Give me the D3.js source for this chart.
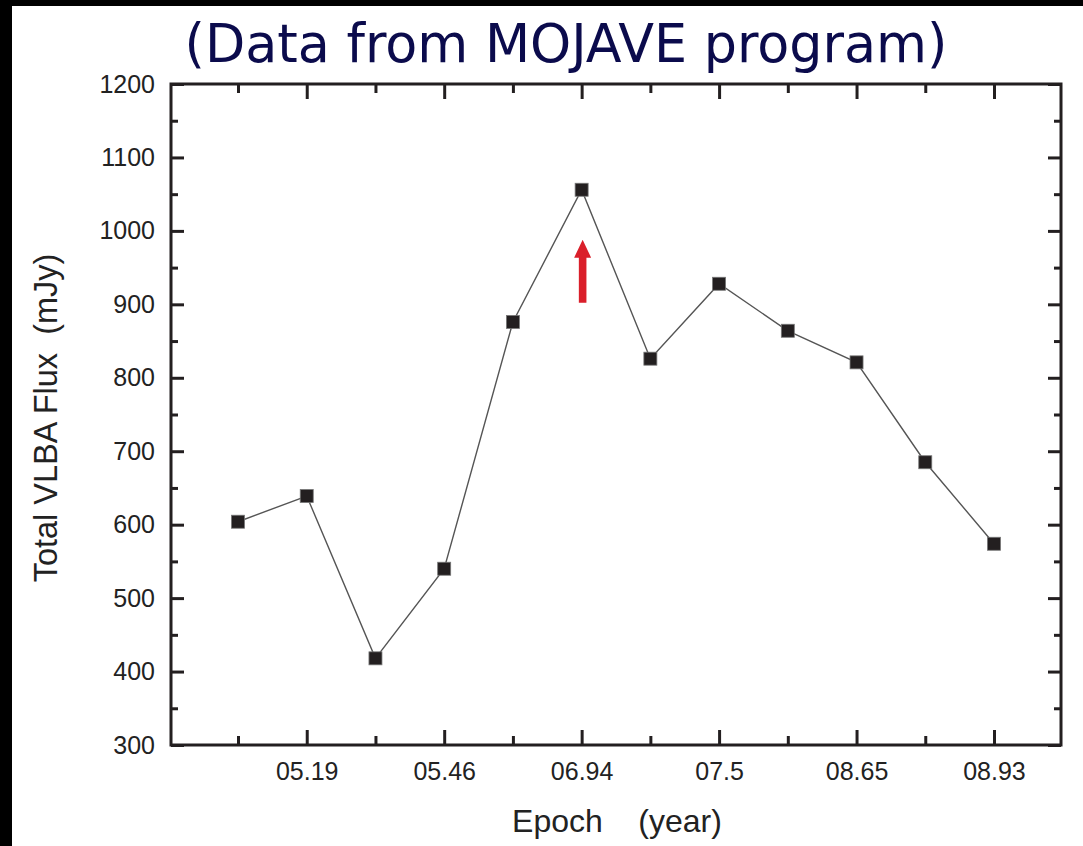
<!DOCTYPE html>
<html>
<head>
<meta charset="utf-8">
<script src="https://cdn.jsdelivr.net/npm/d3@7"></script>
<style>
  html, body { margin: 0; padding: 0; background: #fff; }
  svg { display: block; }
  text { font-family: "Liberation Sans", Arial, Helvetica, sans-serif; }
</style>
</head>
<body>
<svg id="chart" width="1083" height="846"></svg>
<script>
// Total VLBA flux per observing epoch (index along the x axis)
const epochIndex = [0, 1, 2, 3, 4, 5, 6, 7, 8, 9, 10, 11];
const fluxMJy    = [604, 639, 418, 540, 876, 1056, 826, 928, 864, 821, 685, 574];

// Only every second epoch carries a label
const labelledEpochs = [1, 3, 5, 7, 9, 11];
const epochLabels    = ["05.19", "05.46", "06.94", "07.5", "08.65", "08.93"];
const unlabelledEpochs = [0, 2, 4, 6, 8, 10];

const yMajorTicks = [300, 400, 500, 600, 700, 800, 900, 1000, 1100, 1200];
const yMinorTicks = [350, 450, 550, 650, 750, 850, 950, 1050, 1150];

// Flare marker: arrow at the peak epoch, from/to flux level
const arrowEpoch = 5;
const arrowFrom = 902;
const arrowTo = 988;

const svg = d3.select("#chart");
const W = 1083, H = 846;
const plot = { left: 171, right: 1061, top: 84, bottom: 745 };
const ink = "#231f20";

// dark frame strips on the left and top edge
svg.append("rect").attr("x", 0).attr("y", 0).attr("width", W).attr("height", H).attr("fill", "#fff");
svg.append("rect").attr("x", 0).attr("y", 0).attr("width", 12).attr("height", H).attr("fill", "#000");
svg.append("rect").attr("x", 0).attr("y", 0).attr("width", W).attr("height", 6).attr("fill", "#000");

const x = d3.scaleLinear().domain([-0.975, 11.975]).range([plot.left, plot.right]);
const y = d3.scaleLinear().domain([300, 1200]).range([plot.bottom, plot.top]);

function styleAxis(g) {
  g.select(".domain").remove();
  g.selectAll(".tick line").attr("stroke", ink).attr("stroke-width", 3);
  g.selectAll(".tick text").attr("fill", "#222").style("font-size", "25px")
    .style("font-family", '"Liberation Sans", Arial, sans-serif');
}

// bottom axis (labelled majors + minors)
svg.append("g").attr("transform", `translate(0,${plot.bottom})`)
  .call(d3.axisBottom(x).tickValues(labelledEpochs).tickSizeInner(-15).tickSizeOuter(0)
    .tickPadding(17).tickFormat((d, i) => epochLabels[i]))
  .call(styleAxis);
svg.append("g").attr("transform", `translate(0,${plot.bottom})`)
  .call(d3.axisBottom(x).tickValues(unlabelledEpochs).tickSizeInner(-9).tickSizeOuter(0).tickFormat(""))
  .call(styleAxis);

// top axis mirrors the bottom ticks
svg.append("g").attr("transform", `translate(0,${plot.top})`)
  .call(d3.axisTop(x).tickValues(labelledEpochs).tickSizeInner(-15).tickSizeOuter(0).tickFormat(""))
  .call(styleAxis);
svg.append("g").attr("transform", `translate(0,${plot.top})`)
  .call(d3.axisTop(x).tickValues(unlabelledEpochs).tickSizeInner(-9).tickSizeOuter(0).tickFormat(""))
  .call(styleAxis);

// left axis
svg.append("g").attr("transform", `translate(${plot.left},0)`)
  .call(d3.axisLeft(y).tickValues(yMajorTicks).tickSizeInner(-13).tickSizeOuter(0)
    .tickPadding(16).tickFormat(d3.format("d")))
  .call(styleAxis);
svg.append("g").attr("transform", `translate(${plot.left},0)`)
  .call(d3.axisLeft(y).tickValues(yMinorTicks).tickSizeInner(-7).tickSizeOuter(0).tickFormat(""))
  .call(styleAxis);

// right axis
svg.append("g").attr("transform", `translate(${plot.right},0)`)
  .call(d3.axisRight(y).tickValues(yMajorTicks).tickSizeInner(-13).tickSizeOuter(0).tickFormat(""))
  .call(styleAxis);
svg.append("g").attr("transform", `translate(${plot.right},0)`)
  .call(d3.axisRight(y).tickValues(yMinorTicks).tickSizeInner(-7).tickSizeOuter(0).tickFormat(""))
  .call(styleAxis);

// plot frame
svg.append("rect")
  .attr("x", plot.left).attr("y", plot.top)
  .attr("width", plot.right - plot.left).attr("height", plot.bottom - plot.top)
  .attr("fill", "none").attr("stroke", ink).attr("stroke-width", 3);

// connecting line
const pts = epochIndex.map((e, i) => [e, fluxMJy[i]]);
svg.append("path")
  .datum(pts)
  .attr("fill", "none")
  .attr("stroke", "#555")
  .attr("stroke-width", 1.4)
  .attr("d", d3.line().x(d => x(d[0])).y(d => y(d[1])));

// square markers
const ms = 13;
svg.append("g").selectAll("rect").data(pts).join("rect")
  .attr("x", d => x(d[0]) - ms / 2)
  .attr("y", d => y(d[1]) - ms / 2)
  .attr("width", ms).attr("height", ms)
  .attr("fill", ink)
  .attr("stroke", "#777").attr("stroke-width", 0.8);

// red arrow at the flux peak
{
  const ax = x(arrowEpoch) + 1;
  const yb = y(arrowFrom), yt = y(arrowTo);
  const headLen = 18, headHalf = 8.5, shaftHalf = 3.8;
  const p = d3.path();
  p.moveTo(ax - shaftHalf, yb);
  p.lineTo(ax - shaftHalf, yt + headLen);
  p.lineTo(ax - headHalf, yt + headLen);
  p.lineTo(ax, yt);
  p.lineTo(ax + headHalf, yt + headLen);
  p.lineTo(ax + shaftHalf, yt + headLen);
  p.lineTo(ax + shaftHalf, yb);
  p.closePath();
  svg.append("path").attr("d", p.toString()).attr("fill", "#da1f2a");
}

// axis titles
svg.append("text")
  .attr("x", 617).attr("y", 832)
  .attr("text-anchor", "middle")
  .attr("fill", "#222")
  .style("font-size", "32px")
  .style("white-space", "pre")
  .text("Epoch    (year)");

svg.append("text")
  .attr("transform", "translate(57,418) rotate(-90)")
  .attr("text-anchor", "middle")
  .attr("fill", "#222")
  .style("font-size", "32.5px")
  .style("white-space", "pre")
  .text("Total VLBA Flux  (mJy)");

// headline
svg.append("text")
  .attr("x", 566).attr("y", 62)
  .attr("text-anchor", "middle")
  .attr("fill", "#0b0b4c")
  .attr("textLength", 763)
  .attr("lengthAdjust", "spacingAndGlyphs")
  .style("font-family", '"DejaVu Sans", "Noto Sans", sans-serif')
  .style("font-size", "53px")
  .text("(Data from MOJAVE program)");
</script>
</body>
</html>
